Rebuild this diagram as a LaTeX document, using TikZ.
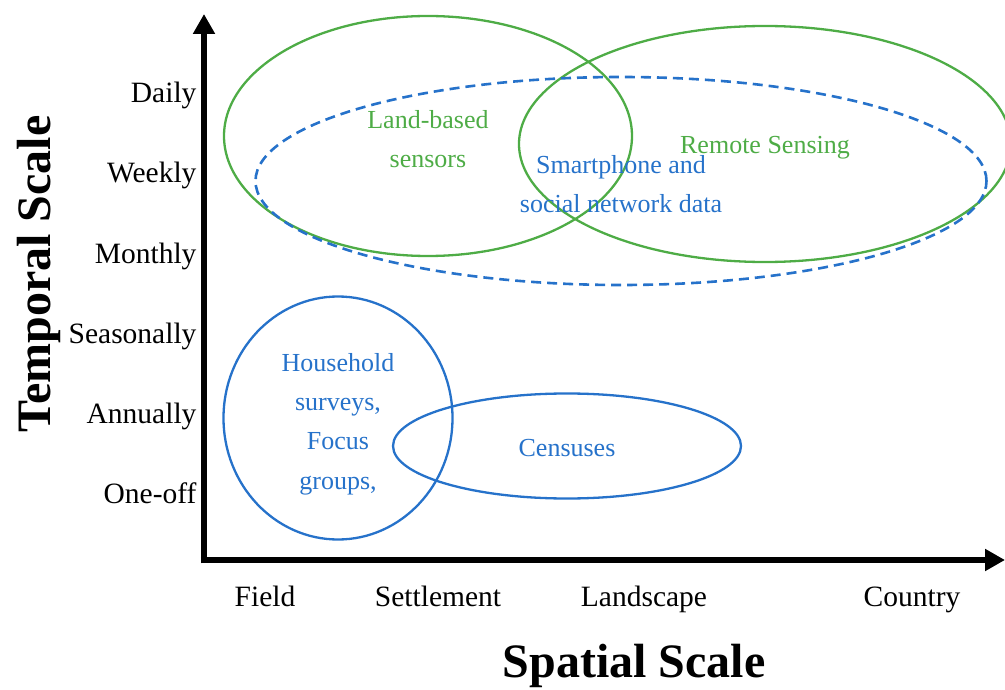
\documentclass[tikz,border=0pt]{standalone}
\usepackage{fontspec}
\setmainfont{Liberation Serif}
\usetikzlibrary{shapes.geometric,arrows.meta}

\definecolor{scblue}{RGB}{38,114,202}
\definecolor{scgreen}{RGB}{78,172,70}

\begin{document}
\begin{tikzpicture}[x=1pt, y=-1pt,
    zone/.style={ellipse, draw, line width=2.3pt, inner sep=0pt},
    greenzone/.style={zone, draw=scgreen},
    bluezone/.style={zone, draw=scblue},
    zonetext/.style={align=center, inner sep=0pt, font=\fontsize{26}{39.3}\selectfont},
    tick/.style={font=\fontsize{29.5}{32}\selectfont, anchor=base east},
    xtick/.style={font=\fontsize{29.5}{32}\selectfont, anchor=base},
    axis/.style={line width=6.5pt, -{Triangle[length=20pt,width=21pt]}},
    title/.style={font=\fontsize{48}{50}\selectfont\bfseries, anchor=base}]

    \useasboundingbox (0,0) rectangle (1005,690);

    % axes
    \coordinate (O) at (204,560);
    \coordinate (ytop) at (204,14);
    \coordinate (xend) at (1005,560);
    \draw[axis] ([yshift=-3.25pt]O) -- (ytop);
    \draw[axis] ([xshift=-3.25pt]O) -- (xend);

    % scale labels
    \foreach \lab [count=\i] in {Daily,Weekly,Monthly,Seasonally,Annually,One-off}
        \node[tick] (t\i) at (200,23+80*\i) {\lab};
    \foreach \lab/\x in {Field/265,Settlement/438,Landscape/644,Country/912}
        \node[xtick] (s\lab) at (\x,606) {\lab};

    \node[title] (spatial) at (634,677) {Spatial Scale};
    \node[title, rotate=90] (temporal) at (50,274) {Temporal Scale};

    % data sources
    \node[greenzone, minimum width=408pt, minimum height=240pt] (land) at (428,136) {};
    \node[greenzone, minimum width=492pt, minimum height=236pt] (remote) at (765,144) {};
    \node[bluezone, dash pattern=on 10pt off 6pt, line width=2.6pt, minimum width=731pt, minimum height=208pt] (phone) at (621,181) {};
    \node[bluezone, minimum width=229pt, minimum height=243pt] (household) at (338,418) {};
    \node[bluezone, minimum width=348pt, minimum height=105pt] (census) at (567,446) {};

    \node[zonetext, text=scgreen] (landtext) at ([yshift=-3pt]land.center) {Land-based\\sensors};
    \node[zonetext, text=scgreen] (remotetext) at ([yshift=-4pt]remote.center) {Remote Sensing};
    \node[zonetext, text=scblue] (phonetext) at ([yshift=-3pt]phone.center) {Smartphone and\\social network data};
    \node[zonetext, text=scblue] (householdtext) at ([yshift=-6pt]household.center) {Household\\surveys,\\Focus\\groups,};
    \node[zonetext, text=scblue] (censustext) at ([yshift=-2pt]census.center) {Censuses};
\end{tikzpicture}
\end{document}
